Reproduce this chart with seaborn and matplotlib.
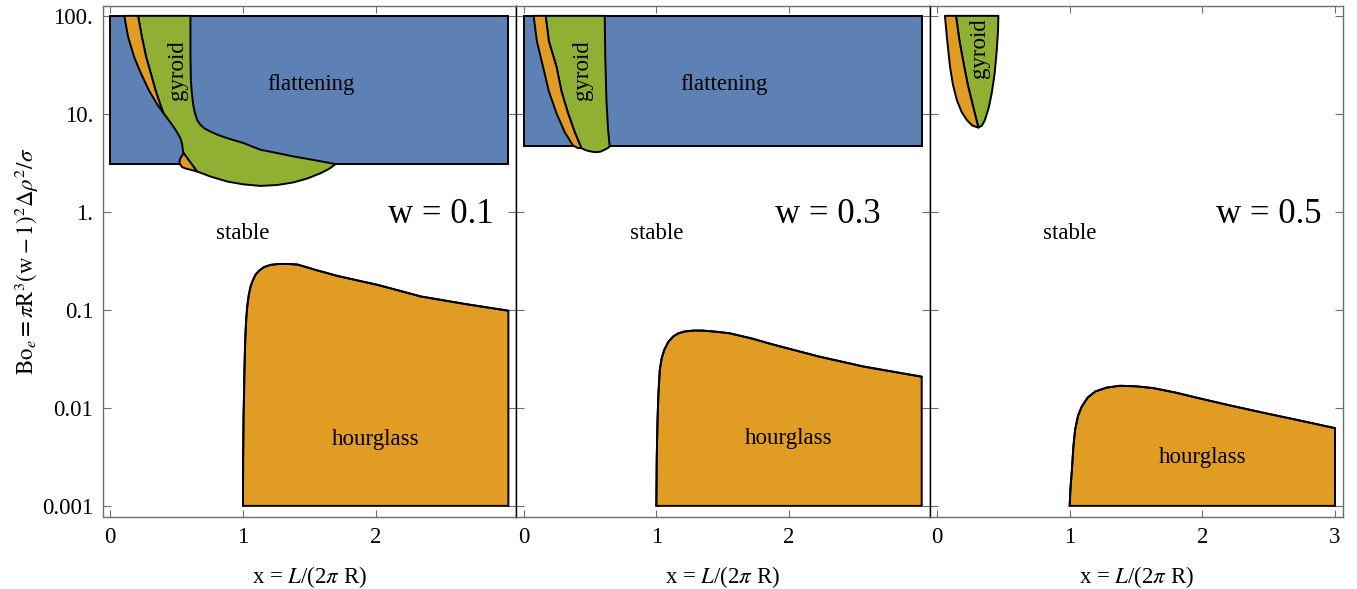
import matplotlib
matplotlib.use("Agg")
import matplotlib.pyplot as plt
import seaborn as sns
import pandas as pd

# ---------------- data ----------------
W_LABELS = ["w = 0.1", "w = 0.3", "w = 0.5"]
X_MAX = 3.0
BO_MIN = 0.001
BO_MAX = 100.0

# flattening rectangle lower boundary per panel (None = absent)
FLAT_LOW = [3.09, 4.75, None]

# hourglass upper boundary
HG1_X = [1.0, 1.001, 1.004, 1.008, 1.011, 1.015, 1.019, 1.025, 1.032, 1.043, 1.057, 1.074, 1.094,
         1.12, 1.157, 1.21, 1.27, 1.34, 1.41, 1.55, 1.711, 1.86, 2.013, 2.17, 2.34, 2.67, 3.0]
HG1_Y = [0.001, 0.003, 0.008, 0.014, 0.025, 0.040, 0.058, 0.083, 0.108, 0.140, 0.173, 0.200, 0.228,
         0.250, 0.273, 0.288, 0.294, 0.294, 0.290, 0.255, 0.222, 0.200, 0.180, 0.158, 0.137, 0.115, 0.098]
HG2_X = [1.0, 1.003, 1.009, 1.016, 1.026, 1.04, 1.06, 1.09, 1.127, 1.165, 1.211, 1.28, 1.346,
         1.44, 1.549, 1.72, 1.887, 2.225, 2.562, 3.0]
HG2_Y = [0.001, 0.003, 0.00755, 0.014, 0.0244, 0.032, 0.0391, 0.047, 0.0535, 0.0575, 0.0601, 0.0615,
         0.0615, 0.060, 0.0578, 0.051, 0.0440, 0.0334, 0.0264, 0.0208]
HG3_X = [1.0, 1.006, 1.017, 1.028, 1.041, 1.063, 1.091, 1.135, 1.193, 1.28, 1.378, 1.50, 1.631,
         1.80, 1.968, 2.22, 2.474, 2.74, 3.0]
HG3_Y = [0.001, 0.0015, 0.00233, 0.004, 0.00597, 0.0083, 0.0103, 0.0127, 0.0147, 0.0161, 0.0168,
         0.0166, 0.0159, 0.0143, 0.0126, 0.0105, 0.00883, 0.0074, 0.00621]

# gyroid regions (closed outlines)
GY1_X = [0.209, 0.222, 0.239, 0.27, 0.302, 0.34, 0.377, 0.40, 0.43, 0.466, 0.50, 0.528, 0.54, 0.549,
         0.553, 0.60, 0.654, 0.76, 0.881, 1.0, 1.132, 1.26, 1.383, 1.49, 1.585, 1.65, 1.698,
         1.55, 1.383, 1.25, 1.132, 1.006, 0.881, 0.81, 0.755, 0.71, 0.679, 0.655, 0.642, 0.632,
         0.625, 0.615, 0.607, 0.604, 0.604]
GY1_Y = [100, 80, 59.7, 38, 26.8, 17.5, 12.4, 10.2, 9.0, 7.73, 6.6, 5.65, 5.0, 4.12,
         3.97, 3.2, 2.58, 2.28, 2.04, 1.91, 1.84, 1.88, 2.0, 2.2, 2.48, 2.75, 3.07,
         3.35, 3.67, 4.0, 4.30, 5.02, 5.65, 6.1, 6.59, 7.1, 7.73, 8.6, 9.77, 11.0,
         12.4, 16.0, 22.0, 40.0, 100]
GY2_X = [0.166, 0.19, 0.247, 0.285, 0.334, 0.385, 0.435, 0.46, 0.49, 0.52, 0.549, 0.58, 0.61,
         0.635, 0.649, 0.636, 0.624, 0.615, 0.611]
GY2_Y = [100, 55, 30.4, 17, 10.2, 6.5, 4.47, 4.3, 4.17, 4.1, 4.06, 4.12, 4.3,
         4.48, 4.64, 7.0, 13.9, 40, 100]
GY3_X = [0.143, 0.17, 0.205, 0.235, 0.26, 0.29, 0.312, 0.34, 0.362, 0.39, 0.413, 0.435, 0.451,
         0.46, 0.463]
GY3_Y = [100, 55, 30.4, 19, 13.9, 9.5, 7.24, 7.6, 8.69, 11.5, 16.3, 26, 45, 70, 100]

# orange slivers next to the gyroid
SL1A_X = [0.106, 0.118, 0.136, 0.18, 0.226, 0.29, 0.355, 0.40,
          0.377, 0.34, 0.302, 0.27, 0.239, 0.222, 0.209]
SL1A_Y = [100, 80, 59.7, 38, 26.8, 17.5, 12.4, 10.2,
          12.4, 17.5, 26.8, 38, 59.7, 80, 100]
SL1B_X = [0.553, 0.538, 0.525, 0.521, 0.530, 0.541, 0.57, 0.60, 0.654]
SL1B_Y = [3.97, 3.7, 3.45, 3.2, 3.0, 2.86, 2.76, 2.7, 2.58]
SL2_X = [0.075, 0.10, 0.146, 0.19, 0.247, 0.31, 0.372, 0.41, 0.435,
         0.385, 0.334, 0.285, 0.247, 0.19, 0.166]
SL2_Y = [100, 55, 30.4, 17, 10.2, 6.5, 4.75, 4.47, 4.47,
         6.5, 10.2, 17, 30.4, 55, 100]
SL3_X = [0.060, 0.075, 0.098, 0.12, 0.149, 0.185, 0.224, 0.265, 0.312,
         0.29, 0.26, 0.235, 0.205, 0.17, 0.143]
SL3_Y = [100, 60, 30.4, 20, 13.9, 10.5, 8.69, 7.6, 7.24,
         9.5, 13.9, 19, 30.4, 55, 100]

HG_X = [HG1_X, HG2_X, HG3_X]
HG_Y = [HG1_Y, HG2_Y, HG3_Y]
GY_X = [GY1_X, GY2_X, GY3_X]
GY_Y = [GY1_Y, GY2_Y, GY3_Y]
SL = [[(SL1A_X, SL1A_Y), (SL1B_X, SL1B_Y)], [(SL2_X, SL2_Y)], [(SL3_X, SL3_Y)]]

Y_TICKS = [0.001, 0.01, 0.1, 1, 10, 100]
Y_TICKLABELS = ["0.001", "0.01", "0.1", "1.", "10.", "100."]
X_TICKS = [[0, 1, 2], [0, 1, 2], [0, 1, 2, 3]]

# ---------------- layout / style ----------------
BLUE = "#5E81B5"
ORANGE = "#E19C24"
GREEN = "#8FB032"
FRAME = "#6e6e6e"
FS = 16.5

sns.set_theme(style="ticks")
plt.rcParams["font.family"] = ["Liberation Serif", "DejaVu Serif"]
plt.rcParams["mathtext.fontset"] = "stix"
plt.rcParams["text.color"] = "black"
plt.rcParams["axes.labelcolor"] = "black"
plt.rcParams["xtick.labelcolor"] = "black"
plt.rcParams["ytick.labelcolor"] = "black"

W_POS = [(2.49, 0.93), (2.29, 0.93), (2.50, 0.93)]
FLAT_POS = (1.51, 19.8)
GY_POS = [(0.51, 28), (0.44, 28), (0.32, 47)]
STABLE_POS = (1.0, 0.6)
HGL_POS = [(2.0, 0.0048), (2.0, 0.0049), (2.0, 0.0031)]

fig = plt.figure(figsize=(13.57, 5.89), dpi=100)
axes = fig.subplots(1, 3, sharey=True)
fig.subplots_adjust(left=103 / 1357, right=1343 / 1357, bottom=1 - 517 / 589, top=1 - 6 / 589, wspace=0)

LW = 1.4
for i, ax in enumerate(axes):
    ax.set_yscale("log")
    # flattening
    if FLAT_LOW[i] is not None:
        ax.fill([0, X_MAX, X_MAX, 0], [FLAT_LOW[i], FLAT_LOW[i], BO_MAX, BO_MAX],
                facecolor=BLUE, edgecolor="black", linewidth=LW, zorder=2)
    # gyroid
    ax.fill(GY_X[i], GY_Y[i], facecolor=GREEN, edgecolor="black", linewidth=LW, zorder=3,
            joinstyle="round")
    for sx, sy in SL[i]:
        ax.fill(sx, sy, facecolor=ORANGE, edgecolor="black", linewidth=LW, zorder=4,
                joinstyle="round")
    # hourglass
    hx = HG_X[i] + [X_MAX, HG_X[i][0]]
    hy = HG_Y[i] + [BO_MIN, BO_MIN]
    ax.fill(hx, hy, facecolor=ORANGE, edgecolor="black", linewidth=LW, zorder=2)
    df = pd.DataFrame({"x": HG_X[i], "y": HG_Y[i]})
    sns.lineplot(data=df, x="x", y="y", sort=False, estimator=None, color="black",
                 linewidth=LW, ax=ax, zorder=5, solid_joinstyle="round")

    # labels
    if FLAT_LOW[i] is not None:
        ax.text(*FLAT_POS, "flattening", ha="center", va="center", fontsize=FS, zorder=6)
    ax.text(*GY_POS[i], "gyroid", ha="center", va="center", rotation=90, fontsize=FS, zorder=6)
    ax.text(*STABLE_POS, "stable", ha="center", va="center", fontsize=FS, zorder=6)
    ax.text(*HGL_POS[i], "hourglass", ha="center", va="center", fontsize=FS, zorder=6)
    ax.text(*W_POS[i], W_LABELS[i], ha="center", va="center", fontsize=25, zorder=6)

    ax.set_xlim(-0.055, 3.06)
    ax.set_ylim(0.00077, 126)
    ax.set_xticks(X_TICKS[i])
    ax.set_xticklabels([str(t) for t in X_TICKS[i]])
    ax.set_yticks(Y_TICKS)
    ax.yaxis.set_minor_locator(matplotlib.ticker.NullLocator())
    ax.tick_params(axis="both", which="major", direction="in", top=True, right=True,
                   length=5, width=0.8, color=FRAME, labelsize=FS, pad=7)
    ax.tick_params(axis="y", length=6)
    for name, sp in ax.spines.items():
        sp.set_color(FRAME)
        sp.set_linewidth(1.0)
        sp.set_visible(True)
    if i > 0:
        ax.spines["left"].set_color("black")
    if i < 2:
        ax.spines["right"].set_color("black")
    ax.set_xlabel(r"x = $L$/(2$\pi$ R)", fontsize=FS)
    ax.xaxis.set_label_coords(0.5, -0.092)
    ax.set_ylabel("")
    if i > 0:
        ax.tick_params(axis="y", labelleft=False)

axes[0].set_yticklabels(Y_TICKLABELS)
axes[0].set_ylabel(r"$\mathrm{Bo}_e = \pi\mathrm{R}^3(\mathrm{w}-1)^2\Delta\rho^2/\sigma$", fontsize=FS)
axes[0].yaxis.set_label_coords(-0.15, 0.5)

fig.savefig("out.png", dpi=100)
